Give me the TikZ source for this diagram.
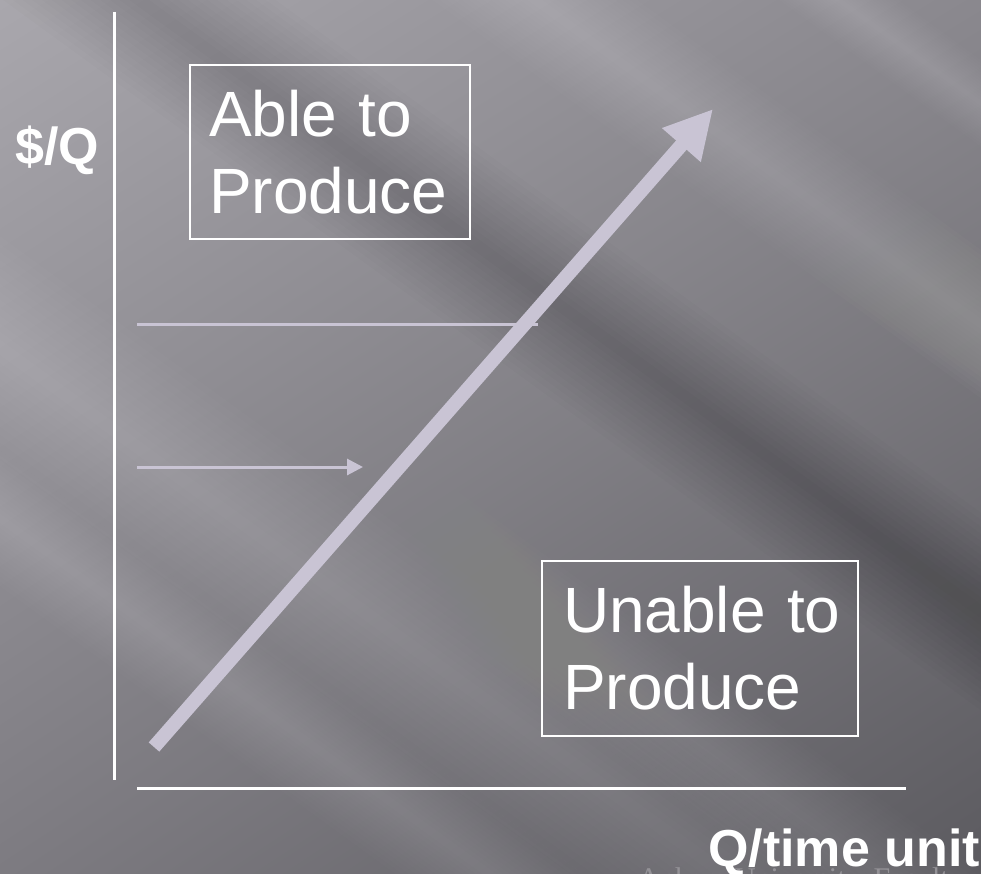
\documentclass[tikz,border=0pt]{standalone}
\usepackage{fontspec}
\setmainfont{Liberation Sans}
\newfontfamily\footerfont{Liberation Serif}
\usetikzlibrary{arrows.meta,shadings}

% slide background and drawing colours
\definecolor{bgUL}{HTML}{A9A7AD}
\definecolor{bgUR}{HTML}{8A888E}
\definecolor{bgLL}{HTML}{7D7B81}
\definecolor{bgLR}{HTML}{5C5B60}
\definecolor{lav}{HTML}{C9C4D4}
\definecolor{footgray}{HTML}{949297}

% soft diagonal streak: x, y, angle, half width, layer opacity, layers, colour
\newcommand\softband[7]{%
  \begin{scope}[shift={(#1,#2)},rotate=#3]
    \foreach \k in {1,...,#6}{%
      \fill[#7,opacity=#5] (-1600,{-#4*\k/#6}) rectangle (1600,{#4*\k/#6});}
  \end{scope}}

\begin{document}
\begin{tikzpicture}[x=1pt,y=-1pt,
  axisline/.style={draw=white,line width=3},
  guide/.style={draw=lav,line width=3},
  trend/.style={draw=lav,line width=14,-{Triangle[length=48pt,width=48pt]}},
  regionbox/.style={draw=white,line width=2,text=white,align=left,
    font={\fontsize{64}{77}\selectfont},anchor=north west,inner ysep=0},
  axislabel/.style={text=white,inner sep=0,font={\fontsize{52}{60}\selectfont\bfseries}}]

\useasboundingbox (0,0) rectangle (981,873);

% background with soft light streaks
\begin{scope}
  \clip (0,0) rectangle (981,873);
  \shade[upper left=bgUL,upper right=bgUR,lower left=bgLL,lower right=bgLR]
    (0,0) rectangle (981,873);
  \softband{100}{420}{-36}{90}{0.012}{14}{white}
  \softband{250}{700}{-36}{55}{0.012}{14}{white}
  \softband{450}{560}{-36}{60}{0.008}{14}{white}
  \softband{700}{120}{-36}{60}{0.014}{14}{white}
  \softband{880}{30}{-36}{35}{0.012}{14}{white}
  \softband{800}{480}{-36}{80}{0.012}{14}{black}
  \node[anchor=base west,inner sep=0,text=footgray,
    font={\footerfont\fontsize{30}{36}\selectfont}] (footer) at (638,888)
    {Ankara University, Faculty};
\end{scope}

% axes
\coordinate (ytop) at (114,12);
\coordinate (ybot) at (114,780);
\coordinate (xleft) at (137,788);
\coordinate (xright) at (906,788);
\draw[axisline] (ytop) -- (ybot);
\draw[axisline] (xleft) -- (xright);

% price guides
\coordinate (hiS) at (137,324);
\coordinate (hiE) at (538,324);
\coordinate (loS) at (137,467);
\coordinate (loE) at (363,467);
\draw[guide] (hiS) -- (hiE);
\draw[guide,-{Triangle[length=16pt,width=16pt]}] (loS) -- (loE);

% cost curve
\coordinate (trendS) at (154,747);
\coordinate (trendE) at (713,109);
\draw[trend] (trendS) -- (trendE);

% regions
\node[regionbox,text width=242,inner xsep=19,minimum height=174] (able)
  at (189,64) {Able to\\Produce};
\node[regionbox,text width=282,inner xsep=17,minimum height=175] (unable)
  at (541,560) {\hspace*{4pt}Unable to\\\hspace*{4pt}Produce};

% axis labels
\node[axislabel,anchor=base west] (ylab) at (15,164) {\$/Q};
\node[axislabel,anchor=base east] (xlab) at (980,866) {Q/time unit};

\end{tikzpicture}
\end{document}
